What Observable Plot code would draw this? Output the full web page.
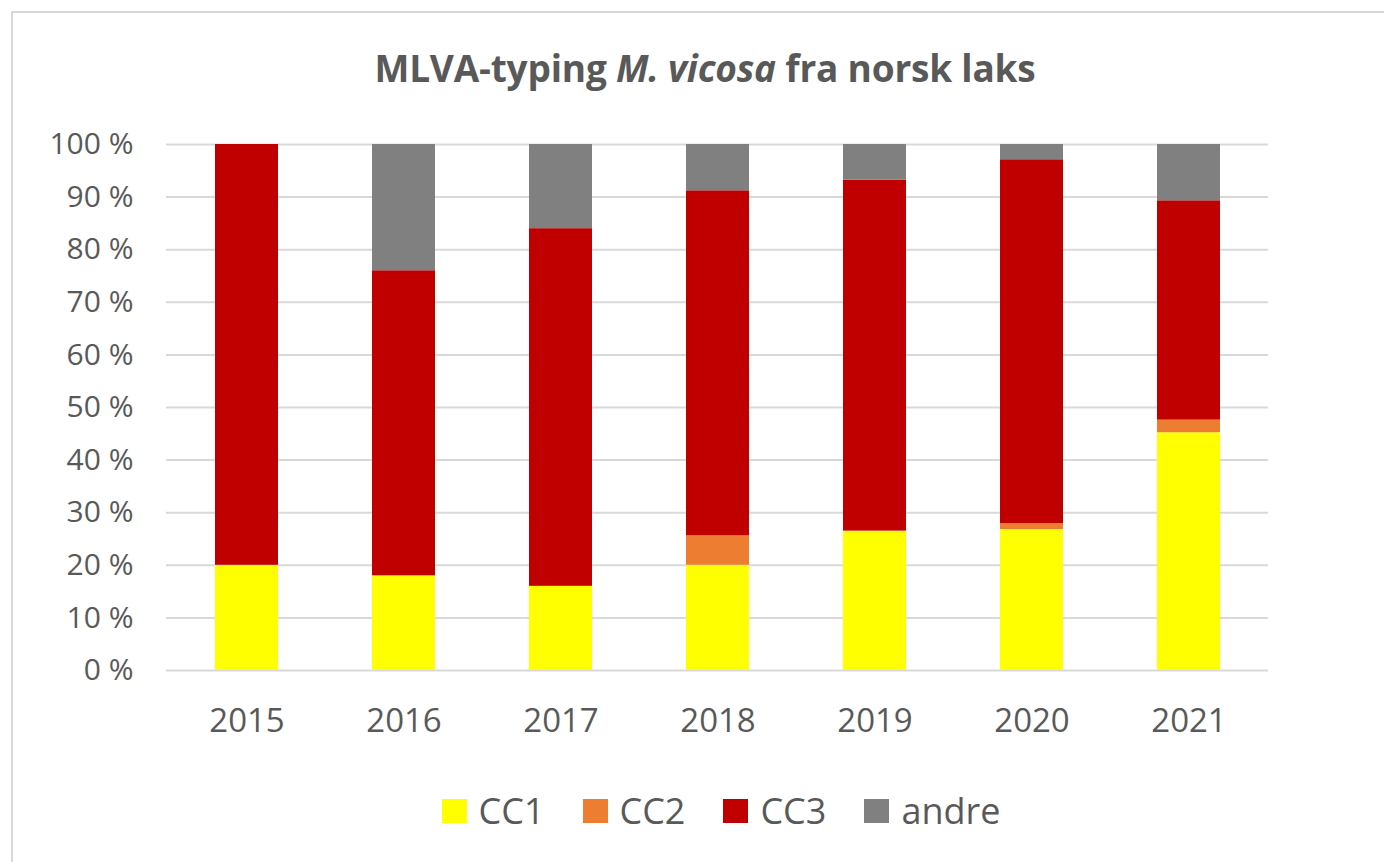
<!DOCTYPE html>
<html>
<head>
<meta charset="utf-8">
<script src="https://cdn.jsdelivr.net/npm/d3@7"></script>
<script src="https://cdn.jsdelivr.net/npm/@observablehq/plot@0.6"></script>
<style>
  html, body { margin: 0; padding: 0; background: #fff; }
  body { width: 1384px; height: 862px; position: relative; overflow: hidden; font-family: "Open Sans", sans-serif; }
  #frame { position: absolute; left: 11px; top: 11px; width: 1400px; height: 900px; border-top: 2px solid #d9d9d9; border-left: 2px solid #d9d9d9; box-sizing: border-box; }
  #title { position: absolute; left: 0; top: 42px; width: 1410px; text-align: center; font-size: 37px; font-weight: 700; color: #595959; letter-spacing: -0.2px; }
  #chart { position: absolute; left: 0; top: 100px; }
  #legend { position: absolute; left: 0; top: 786px; width: 1442px; display: flex; justify-content: center; align-items: center; font-size: 36px; color: #595959; }
  .item { display: flex; align-items: center; margin: 0 19px; }
  .sw { width: 25px; height: 24px; margin-right: 12px; }
</style>
</head>
<body>
<div id="frame"></div>
<div id="title">MLVA-typing <i>M. vicosa</i> fra norsk laks</div>
<div id="chart"></div>
<div id="legend"></div>
<script>
const years = ["2015", "2016", "2017", "2018", "2019", "2020", "2021"];
const seriesNames = ["CC1", "CC2", "CC3", "andre"];
const seriesColors = ["#FFFF00", "#ED7D31", "#C00000", "#808080"];
const cc1 = [20, 18, 16, 20, 26.5, 26.8, 45.2];
const cc2 = [0, 0, 0, 5.6, 0, 1.1, 2.4];
const cc3 = [80, 58, 68, 65.6, 66.7, 69.2, 41.7];
const andre = [0, 24, 16, 8.8, 6.8, 2.9, 10.7];
const yTicks = [0, 10, 20, 30, 40, 50, 60, 70, 80, 90, 100];

const seriesValues = [cc1, cc2, cc3, andre];
const data = years.flatMap((yr, i) =>
  seriesNames.map((name, k) => ({ year: yr, type: name, value: seriesValues[k][i] }))
);

const chart = Plot.plot({
  width: 1384,
  height: 670,
  marginTop: 44,
  marginBottom: 100,
  marginLeft: 166,
  marginRight: 116,
  style: { fontFamily: "Open Sans, sans-serif", color: "#595959", background: "transparent" },
  x: { domain: years, paddingInner: 0.6, paddingOuter: 0.3, label: null },
  y: { domain: [0, 100], label: null },
  color: { domain: seriesNames, range: seriesColors },
  marks: [
    Plot.gridY(yTicks, { stroke: "#d9d9d9", strokeOpacity: 1, strokeWidth: 2 }),
    Plot.barY(data, { x: "year", y: "value", fill: "type", order: seriesNames }),
    Plot.axisY(yTicks, { tickSize: 0, tickPadding: 33, fontSize: 30, tickFormat: d => d + " %", fill: "#595959" }),
    Plot.axisX({ tickSize: 0, tickPadding: 38, fontSize: 33, fill: "#595959" })
  ]
});
document.getElementById("chart").appendChild(chart);

const legend = document.getElementById("legend");
seriesNames.forEach((name, k) => {
  const item = document.createElement("div");
  item.className = "item";
  const sw = document.createElement("div");
  sw.className = "sw";
  sw.style.background = seriesColors[k];
  const lab = document.createElement("span");
  lab.textContent = name;
  item.appendChild(sw);
  item.appendChild(lab);
  legend.appendChild(item);
});
</script>
</body>
</html>
